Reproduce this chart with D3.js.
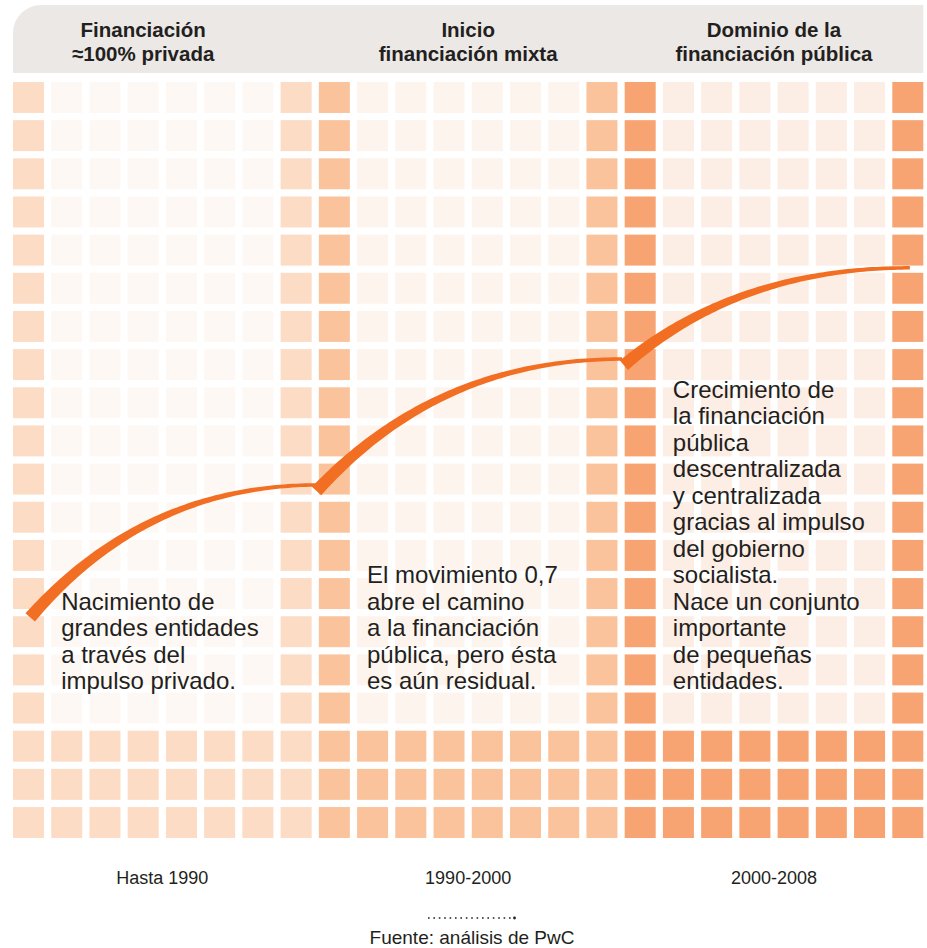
<!DOCTYPE html>
<html>
<head>
<meta charset="utf-8">
<script src="https://cdn.jsdelivr.net/npm/d3@7"></script>
<style>
  body { margin: 0; background: #fff; }
  svg { display: block; }
  text { font-family: "Liberation Sans", Arial, sans-serif; fill: #231f20; }
</style>
</head>
<body>
<div id="chart"></div>
<script>
// periods shown under the grid
var periods = ["Hasta 1990", "1990-2000", "2000-2008"]
// header titles, two lines each
var headers = [["Financiación", "≈100% privada"], ["Inicio", "financiación mixta"], ["Dominio de la", "financiación pública"]]
// full and light tone of each period
var fullColors = ["#fcdcc4", "#fbc39b", "#f7a472"]
var lightColors = ["#fef8f5", "#fdf4ee", "#fcede5"]
// annotation text per period
var notes = [
  ["Nacimiento de", "grandes entidades", "a través del", "impulso privado."],
  ["El movimiento 0,7", "abre el camino", "a la financiación", "pública, pero ésta", "es aún residual."],
  ["Crecimiento de", "la financiación", "pública", "descentralizada", "y centralizada", "gracias al impulso",
   "del gobierno", "socialista.", "Nace un conjunto", "importante", "de pequeñas", "entidades."]
]
// trend arcs, in grid units (column, row)
var arcFrom = [[0.45, 14.03], [7.94, 10.72], [15.98, 7.42]]
var arcTo = [[7.98, 10.56], [15.93, 7.26], [23.46, 4.87]]
var source = "Fuente: análisis de PwC"

var colsPer = 8, nRows = 20, baseRows = 3
var nCols = colsPer * periods.length

var width = 927, height = 948

var svg = d3.select("#chart")
  .append("svg")
    .attr("width", width)
    .attr("height", height)

// grid scales
var x = d3.scaleBand().domain(d3.range(nCols)).range([13, 923.3]).paddingInner(0.189)
var y = d3.scaleBand().domain(d3.range(nRows)).range([82, 838]).paddingInner(0.189)
var gx = d3.scaleLinear().domain([0, nCols]).range([13, 13 + nCols * x.step()])
var gy = d3.scaleLinear().domain([0, nRows]).range([82, 82 + nRows * y.step()])
var bw = x.bandwidth()

// header band with rounded top-left corner
var hx0 = gx(0), hx1 = x(nCols - 1) + bw, hy0 = 5, hy1 = 73, r = 28
var hp = d3.path()
hp.moveTo(hx0, hy1)
hp.lineTo(hx0, hy0 + r)
hp.arcTo(hx0, hy0, hx0 + r, hy0, r)
hp.lineTo(hx1, hy0)
hp.lineTo(hx1, hy1)
hp.closePath()
svg.append("path").attr("d", hp.toString()).attr("fill", "#ece8e5")

var headerSpan = [[0, 6], [8, 15], [16, 23]]
headers.forEach(function(lines, i) {
  var cx = (x(headerSpan[i][0]) + x(headerSpan[i][1]) + bw) / 2
  svg.append("text")
    .attr("text-anchor", "middle")
    .attr("font-size", "20.5px")
    .attr("font-weight", "bold")
    .selectAll("tspan")
    .data(lines)
    .enter()
    .append("tspan")
      .attr("x", cx)
      .attr("y", function(d, j) { return 37 + j * 24 })
      .text(function(d) { return d })
})

// cells
var cells = []
periods.forEach(function(p, pi) {
  d3.range(colsPer).forEach(function(c) {
    d3.range(nRows).forEach(function(rw) {
      var full = c == 0 || c == colsPer - 1 || rw >= nRows - baseRows
      cells.push({col: pi * colsPer + c, row: rw, color: full ? fullColors[pi] : lightColors[pi]})
    })
  })
})

svg.append("g")
  .selectAll("rect")
  .data(cells)
  .enter()
  .append("rect")
    .attr("x", function(d) { return x(d.col) })
    .attr("y", function(d) { return y(d.row) })
    .attr("width", bw)
    .attr("height", y.bandwidth())
    .attr("fill", function(d) { return d.color })

// tapered arc as a filled ribbon
function ribbon(a, b) {
  var p0 = [gx(a[0]), gy(a[1])], p2 = [gx(b[0]), gy(b[1])]
  var c = [p0[0] + 0.4 * (p2[0] - p0[0]), p2[1]]
  var left = [], right = []
  for (var i = 0; i <= 80; i++) {
    var t = i / 80, u = 1 - t
    var px = u * u * p0[0] + 2 * u * t * c[0] + t * t * p2[0]
    var py = u * u * p0[1] + 2 * u * t * c[1] + t * t * p2[1]
    var dx = 2 * u * (c[0] - p0[0]) + 2 * t * (p2[0] - c[0])
    var dy = 2 * u * (c[1] - p0[1]) + 2 * t * (p2[1] - c[1])
    var len = Math.hypot(dx, dy)
    var w = (3.5 + 9 * Math.pow(u, 1.4)) / 2
    left.push([px - dy / len * w, py + dx / len * w])
    right.push([px + dy / len * w, py - dx / len * w])
  }
  return d3.line()(left.concat(right.reverse())) + "Z"
}

svg.append("g")
  .selectAll("path")
  .data(arcFrom)
  .enter()
  .append("path")
    .attr("d", function(d, i) { return ribbon(d, arcTo[i]) })
    .attr("fill", "#f26e23")

// annotations, bottom aligned
notes.forEach(function(lines, i) {
  var n = lines.length
  svg.append("text")
    .attr("font-size", "24px")
    .selectAll("tspan")
    .data(lines)
    .enter()
    .append("tspan")
      .attr("x", gx(i * colsPer + 1.26))
      .attr("y", function(d, j) { return 689 - (n - 1 - j) * 26.5 })
      .text(function(d) { return d })
})

// period labels
svg.append("g")
  .selectAll("text")
  .data(periods)
  .enter()
  .append("text")
    .attr("x", function(d, i) { return (x(i * colsPer) + x(i * colsPer + colsPer - 1) + bw) / 2 })
    .attr("y", 884)
    .attr("text-anchor", "middle")
    .attr("font-size", "18px")
    .attr("fill", "#333")
    .text(function(d) { return d })

// source
svg.append("line")
  .attr("x1", 428).attr("x2", 512)
  .attr("y1", 918).attr("y2", 918)
  .attr("stroke", "#231f20")
  .attr("stroke-width", 1.6)
  .attr("stroke-dasharray", "1.6,3.8")
svg.append("circle")
  .attr("cx", 514.5).attr("cy", 918).attr("r", 1.4)
  .attr("fill", "#231f20")

svg.append("text")
  .attr("x", 472)
  .attr("y", 944)
  .attr("text-anchor", "middle")
  .attr("font-size", "19px")
  .text(source)
</script>
</body>
</html>
